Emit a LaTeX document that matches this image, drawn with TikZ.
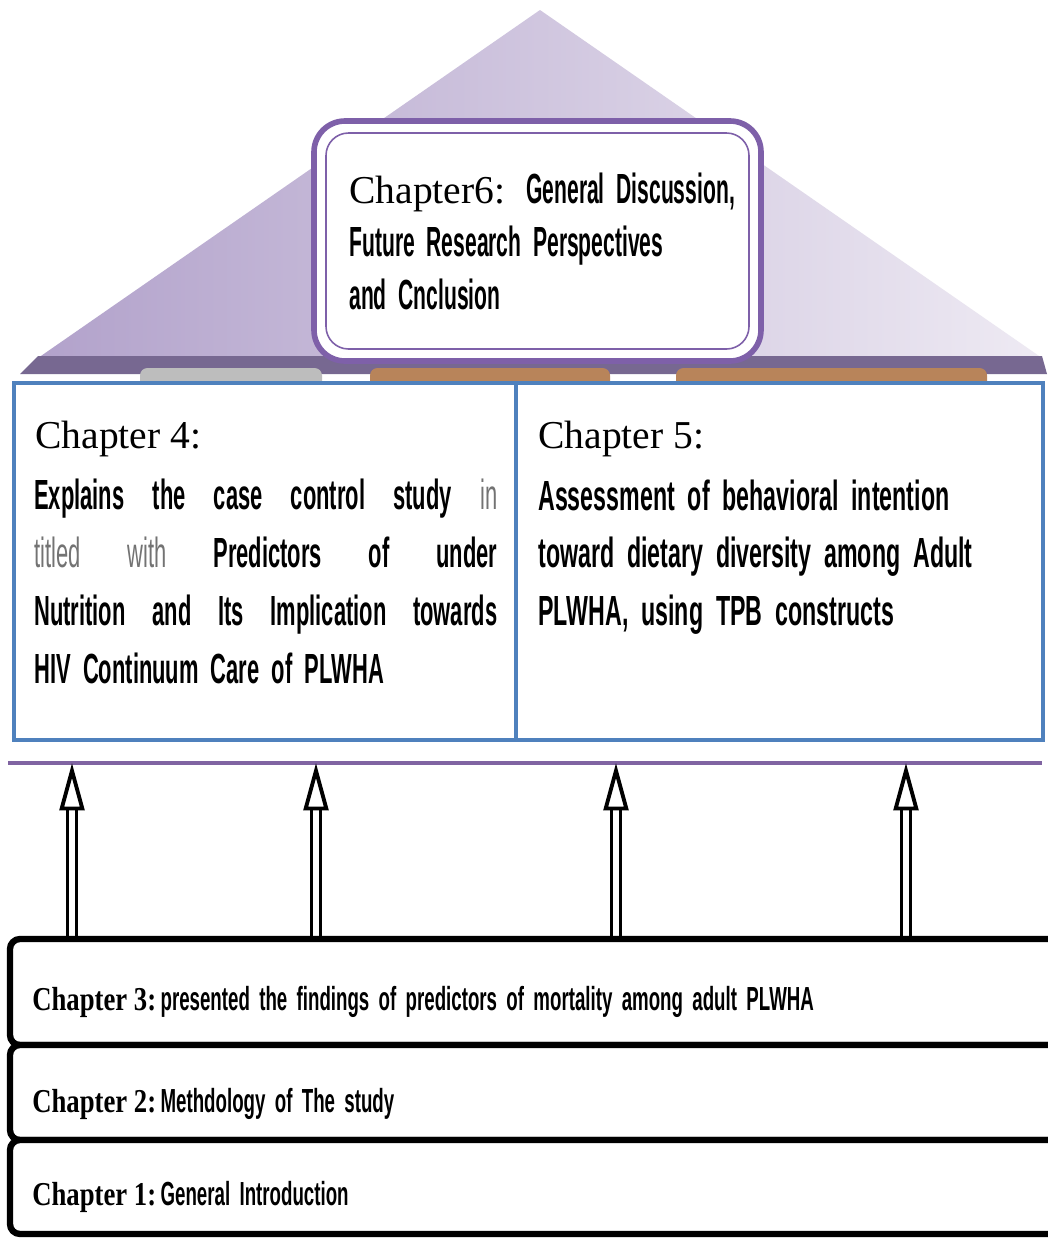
\documentclass[tikz,border=0pt]{standalone}
\usepackage{fontspec}
\setmainfont{Liberation Serif}
\newfontfamily\serifbase{Liberation Serif}[FakeStretch=0.8]
\newfontfamily\condsix{Liberation Sans}[FakeStretch=0.5,WordSpace=2]
\newfontfamily\condfour{Liberation Sans}[FakeStretch=0.52,WordSpace=2]
\newfontfamily\condfive{Liberation Sans}[FakeStretch=0.55,WordSpace=2]
\newfontfamily\condbase{Liberation Sans}[FakeStretch=0.56,WordSpace=1.8]
\usetikzlibrary{arrows.meta}
\definecolor{pyrleft}{HTML}{B2A2CB}
\definecolor{pyrright}{HTML}{EEEAF3}
\definecolor{slab}{HTML}{776891}
\definecolor{footgray}{HTML}{BDBDBD}
\definecolor{footbrown}{HTML}{B8845A}
\definecolor{chsix}{HTML}{7E60A9}
\definecolor{chblue}{HTML}{4F81BD}
\definecolor{purpleline}{HTML}{8064A2}
\newcommand\spreadline[1]{\makebox[9.26cm][s]{#1}}
\newcommand\lightword[1]{{\mdseries\color{black!55}#1}}
\newcommand\basehead[1]{{\serifbase\fontsize{19}{22}\selectfont #1}\hspace{2.5pt}}

\begin{document}
\begin{tikzpicture}[x=0.02cm, y=-0.02cm, every node/.style={inner sep=0pt, anchor=base west},
  bluebox/.style={draw=chblue, line width=2.4pt, fill=white},
  sixouter/.style={draw=chsix, line width=3.2pt, fill=white, rounded corners=0.62cm},
  sixinner/.style={draw=chsix, line width=0.9pt, rounded corners=0.45cm},
  stackbox/.style={draw=black, line width=3.6pt, fill=white, rounded corners=0.2cm},
  uparrow/.style={double, double distance=3.4pt, line width=1.8pt, -{Triangle[open, length=27pt, width=14pt, line width=2.2pt]}},
  chhead/.style={font=\rmfamily\fontsize{22.5}{30}\selectfont},
  sixtext/.style={font=\condsix\bfseries\fontsize{24}{30}\selectfont, align=left},
  fourtext/.style={font=\condfour\bfseries\fontsize{24}{33}\selectfont, align=left},
  fivetext/.style={font=\condfive\bfseries\fontsize{24}{32.7}\selectfont, align=left},
  basetext/.style={font=\condbase\bfseries\fontsize{19}{22}\selectfont}]
	\useasboundingbox (0,0) rectangle (1048,1238);
	\fill[white] (0,0) rectangle (1048,1238);
	\shade[left color=pyrleft, right color=pyrright] (540,10) -- (1042,358) -- (38,358) -- cycle;
	\fill[slab] (38,356) -- (1042,356) -- (1047,374) -- (20,374) -- cycle;
	\fill[footgray, rounded corners=0.15cm] (140,368) rectangle (322,390);
	\fill[footbrown, rounded corners=0.15cm] (370,368) rectangle (610,390);
	\fill[footbrown, rounded corners=0.15cm] (676,368) rectangle (987,390);
	\draw[sixouter] (314,121) rectangle (761,361);
	\draw[sixinner] (326,133) rectangle (749,349);
	\node[sixtext] (six) at (349,309) {{\mdseries\rmfamily\fontsize{22.5}{30}\selectfont Chapter6:}\hspace{12pt}General Discussion,\\ Future Research Perspectives\\ and Cnclusion};
	\draw[bluebox] (14,383) rectangle (1043,740);
	\draw[bluebox] (516,383) -- (516,740);
	\node[chhead] (fourhead) at (35,448) {Chapter 4:};
	\node[fourtext] (four) at (34,683) {\spreadline{Explains the case control study \lightword{in}}\\ \spreadline{\lightword{titled with} Predictors of under}\\ \spreadline{Nutrition and Its Implication towards}\\ HIV Continuum Care of PLWHA};
	\node[chhead] (fivehead) at (538,448) {Chapter 5:};
	\node[fivetext] (five) at (538,625) {Assessment of behavioral intention\\ toward dietary diversity among Adult\\ PLWHA, using TPB constructs};
	\draw[purpleline, line width=2.4pt] (8,763) -- (1042,763);
	\foreach \x [count=\i] in {72,316,616,906} {
		\coordinate (base\i) at (\x,939);
		\coordinate (tip\i) at (\x,763);
		\draw[uparrow] (base\i) -- (tip\i);
	}
	\draw[stackbox] (10,939) rectangle (1062,1045);
	\draw[stackbox] (10,1045) rectangle (1062,1140);
	\draw[stackbox] (10,1140) rectangle (1062,1234);
	\node[basetext] (three) at (32,1010) {\basehead{Chapter 3:}presented the findings of predictors of mortality among adult PLWHA};
	\node[basetext] (two) at (32,1112) {\basehead{Chapter 2:}Methdology of The study};
	\node[basetext] (one) at (32,1205) {\basehead{Chapter 1:}General Introduction};
\end{tikzpicture}
\end{document}
